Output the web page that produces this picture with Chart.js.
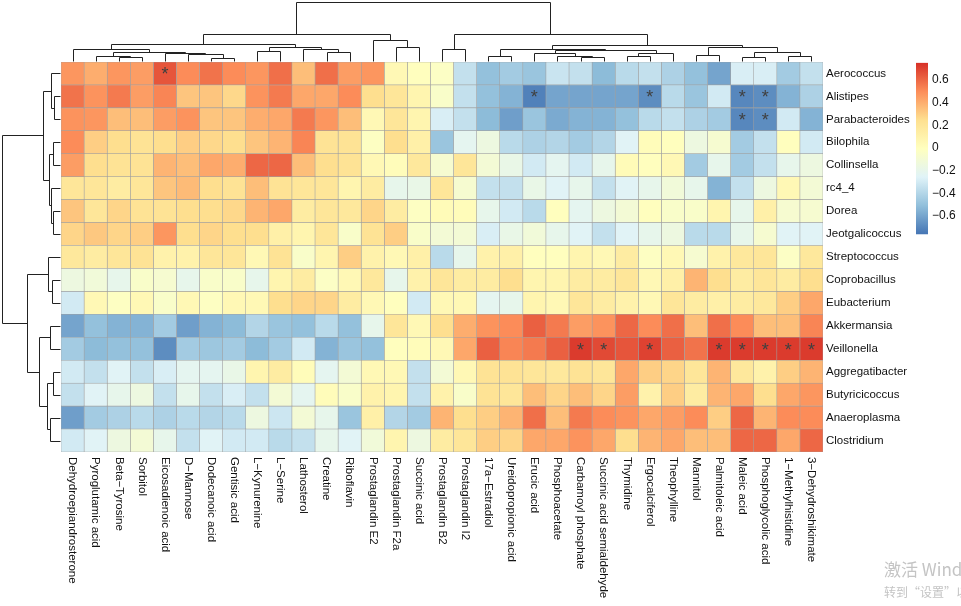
<!DOCTYPE html>
<html>
<head>
<meta charset="utf-8">
<title>Genus - metabolite correlation heatmap</title>
<script src="https://cdn.jsdelivr.net/npm/chart.js@4.4.1/dist/chart.umd.min.js"></script>
<style>
  body { margin: 0; background: #fff; }
  canvas { display: block; }
</style>
</head>
<body>
<canvas id="heatmap" width="961" height="606"></canvas>
<script>
const genera = ['Aerococcus', 'Alistipes', 'Parabacteroides', 'Bilophila', 'Collinsella', 'rc4_4', 'Dorea',
  'Jeotgalicoccus', 'Streptococcus', 'Coprobacillus', 'Eubacterium', 'Akkermansia', 'Veillonella',
  'Aggregatibacter', 'Butyricicoccus', 'Anaeroplasma', 'Clostridium'];

const metabolites = ['Dehydroepiandrosterone', 'Pyroglutamic acid', 'Beta\u2212Tyrosine', 'Sorbitol',
  'Eicosadienoic acid', 'D\u2212Mannose', 'Dodecanoic acid', 'Gentisic acid', 'L\u2212Kynurenine', 'L\u2212Serine',
  'Lathosterol', 'Creatine', 'Riboflavin', 'Prostaglandin E2', 'Prostaglandin F2a', 'Succinic acid',
  'Prostaglandin B2', 'Prostaglandin I2', '17a\u2212Estradiol', 'Ureidopropionic acid', 'Erucic acid',
  'Phosphoacetate', 'Carbamoyl phosphate', 'Succinic acid semialdehyde', 'Thymidine', 'Ergocalciferol',
  'Theophylline', 'Mannitol', 'Palmitoleic acid', 'Maleic acid', 'Phosphoglycolic acid',
  '1\u2212Methylhistidine', '3\u2212Dehydroshikimate'];

// correlation, one line per genus, columns in metabolite order
const corr = [
  [0.47, 0.40, 0.47, 0.45, 0.65, 0.50, 0.57, 0.50, 0.47, 0.58, 0.35, 0.58, 0.45, 0.47, 0.05, 0.00, -0.03, -0.35, -0.50, -0.45, -0.48, -0.33, -0.35, -0.52, -0.38, -0.35, -0.42, -0.50, -0.60, -0.28, -0.28, -0.45, -0.35],
  [0.57, 0.48, 0.55, 0.45, 0.52, 0.33, 0.33, 0.27, 0.48, 0.55, 0.42, 0.42, 0.50, 0.25, 0.20, 0.08, -0.05, -0.35, -0.50, -0.55, -0.72, -0.60, -0.60, -0.60, -0.60, -0.68, -0.38, -0.48, -0.30, -0.70, -0.68, -0.55, -0.42],
  [0.48, 0.47, 0.35, 0.35, 0.45, 0.48, 0.33, 0.33, 0.40, 0.42, 0.55, 0.47, 0.35, 0.05, 0.20, 0.08, -0.28, -0.35, -0.52, -0.62, -0.48, -0.58, -0.55, -0.55, -0.50, -0.38, -0.35, -0.42, -0.45, -0.70, -0.68, -0.30, -0.55],
  [0.50, 0.30, 0.25, 0.22, 0.25, 0.30, 0.27, 0.25, 0.33, 0.38, 0.52, 0.22, 0.22, -0.02, 0.25, 0.12, -0.48, -0.22, -0.15, -0.38, -0.42, -0.40, -0.45, -0.40, -0.25, 0.02, 0.00, -0.15, -0.08, -0.45, -0.35, 0.00, -0.30],
  [0.45, 0.25, 0.22, 0.22, 0.38, 0.35, 0.42, 0.40, 0.60, 0.60, 0.35, 0.25, 0.22, 0.05, 0.02, 0.18, -0.08, 0.20, -0.10, -0.18, -0.30, -0.22, -0.30, -0.20, 0.03, 0.00, 0.05, -0.45, -0.20, -0.45, -0.35, -0.20, -0.15],
  [0.20, 0.20, 0.15, 0.20, 0.33, 0.36, 0.25, 0.22, 0.35, 0.22, 0.20, 0.20, 0.08, 0.15, -0.20, -0.18, 0.20, -0.08, -0.35, -0.35, -0.18, -0.25, -0.20, -0.35, -0.25, -0.20, -0.12, -0.20, -0.55, -0.35, -0.15, 0.05, -0.10],
  [0.33, 0.20, 0.28, 0.22, 0.22, 0.25, 0.25, 0.27, 0.38, 0.42, 0.15, 0.20, 0.18, 0.28, 0.15, -0.02, 0.03, 0.02, -0.20, -0.30, -0.38, 0.00, -0.22, -0.15, -0.10, 0.00, -0.05, -0.05, 0.08, -0.20, 0.12, -0.08, -0.08],
  [0.28, 0.32, 0.28, 0.30, 0.47, 0.25, 0.28, 0.25, 0.25, 0.12, 0.08, 0.20, -0.05, 0.22, 0.30, -0.05, -0.10, -0.10, -0.28, -0.18, -0.12, -0.20, -0.25, -0.35, -0.25, -0.20, -0.15, -0.38, -0.38, -0.20, -0.08, -0.25, -0.25],
  [0.18, 0.15, 0.20, 0.22, 0.10, 0.10, 0.20, 0.20, 0.05, 0.22, -0.05, 0.08, 0.30, 0.10, 0.05, 0.12, -0.38, -0.20, 0.10, 0.12, 0.00, 0.00, 0.08, 0.05, 0.15, -0.02, 0.05, -0.08, 0.10, 0.18, 0.20, -0.03, 0.18],
  [-0.15, -0.12, -0.20, -0.05, -0.08, -0.20, -0.05, -0.05, -0.20, 0.08, 0.15, -0.03, 0.05, 0.18, -0.20, 0.10, 0.20, 0.15, 0.15, 0.25, 0.08, 0.08, 0.15, 0.15, 0.20, 0.05, 0.12, 0.38, 0.25, 0.15, 0.20, 0.15, 0.25],
  [-0.30, 0.05, -0.02, 0.05, -0.05, 0.05, -0.02, 0.05, 0.05, 0.25, 0.28, 0.28, 0.15, 0.05, 0.00, -0.30, 0.05, 0.05, -0.22, -0.20, 0.08, 0.05, 0.20, 0.15, 0.10, 0.05, 0.20, 0.15, 0.12, 0.15, 0.18, 0.30, 0.42],
  [-0.60, -0.50, -0.55, -0.55, -0.45, -0.62, -0.55, -0.52, -0.40, -0.48, -0.50, -0.38, -0.50, -0.20, 0.20, 0.05, 0.25, 0.40, 0.48, 0.50, 0.62, 0.55, 0.45, 0.48, 0.60, 0.50, 0.58, 0.35, 0.58, 0.50, 0.35, 0.35, 0.52],
  [-0.45, -0.52, -0.50, -0.50, -0.68, -0.45, -0.47, -0.45, -0.52, -0.45, -0.30, -0.55, -0.48, -0.50, 0.00, 0.02, 0.05, 0.42, 0.62, 0.52, 0.55, 0.62, 0.72, 0.68, 0.65, 0.70, 0.62, 0.57, 0.72, 0.72, 0.72, 0.72, 0.72],
  [-0.30, -0.35, -0.25, -0.35, -0.28, -0.22, -0.22, -0.18, 0.08, 0.15, 0.02, -0.22, -0.10, 0.05, 0.05, -0.35, -0.10, 0.05, 0.22, 0.22, 0.20, 0.18, 0.22, 0.20, 0.42, 0.30, 0.28, 0.20, 0.38, 0.18, 0.10, 0.30, 0.38],
  [-0.35, -0.25, -0.20, -0.15, -0.35, -0.20, -0.35, -0.28, -0.35, -0.10, -0.22, 0.02, -0.05, 0.10, 0.08, -0.35, 0.10, -0.05, 0.22, 0.20, 0.35, 0.28, 0.35, 0.28, 0.45, 0.10, 0.30, 0.15, 0.38, 0.42, 0.25, 0.42, 0.47],
  [-0.62, -0.45, -0.42, -0.38, -0.42, -0.38, -0.40, -0.38, -0.15, -0.32, -0.10, -0.20, -0.48, 0.12, -0.40, -0.45, 0.38, 0.25, 0.30, 0.38, 0.58, 0.35, 0.55, 0.50, 0.48, 0.42, 0.45, 0.50, 0.30, 0.60, 0.38, 0.50, 0.50],
  [-0.30, -0.25, -0.15, -0.10, -0.20, -0.35, -0.25, -0.30, -0.30, -0.38, -0.35, -0.20, -0.25, -0.12, 0.08, -0.15, 0.15, 0.20, 0.30, 0.28, 0.42, 0.42, 0.48, 0.42, 0.25, 0.38, 0.42, 0.35, 0.35, 0.60, 0.60, 0.42, 0.60]
];

// significant pairs (genus, metabolite)
const stars = [
  ['Aerococcus', 'Eicosadienoic acid'],
  ['Alistipes', 'Erucic acid'], ['Alistipes', 'Ergocalciferol'], ['Alistipes', 'Maleic acid'], ['Alistipes', 'Phosphoglycolic acid'],
  ['Parabacteroides', 'Maleic acid'], ['Parabacteroides', 'Phosphoglycolic acid'],
  ['Veillonella', 'Carbamoyl phosphate'], ['Veillonella', 'Succinic acid semialdehyde'], ['Veillonella', 'Ergocalciferol'],
  ['Veillonella', 'Palmitoleic acid'], ['Veillonella', 'Maleic acid'], ['Veillonella', 'Phosphoglycolic acid'],
  ['Veillonella', '1\u2212Methylhistidine'], ['Veillonella', '3\u2212Dehydroshikimate']
];

const legendTicks = [0.6, 0.4, 0.2, 0, -0.2, -0.4, -0.6];

// hclust style trees: negative = leaf (1-based), positive = earlier merge
const colMerge = [[-3, -4], [-2, 1], [-7, -8], [-6, 3], [-5, 4], [2, 5], [-1, 6], [-9, -10], [-12, -13], [-11, 9],
  [8, 10], [7, 11], [-15, -16], [-14, 13], [12, 14], [-17, -18], [-19, -20], [-23, -24], [-22, 18], [-21, 19],
  [-25, -26], [21, -27], [20, 22], [17, 23], [-28, -29], [-30, -31], [-32, -33], [26, 27], [25, 28], [24, 29],
  [16, 30], [15, 31]];
const colHeight = [4.4, 5.0, 3.4, 7.4, 8.2, 9.4, 12.4, 10.0, 9.0, 12.4, 14.4, 17.0, 14.0, 21.4, 27.0, 12.4, 5.0,
  3.7, 5.0, 8.4, 4.7, 7.7, 10.7, 12.4, 5.7, 3.7, 4.7, 8.7, 14.7, 16.0, 27.0, 60.0];

const rowMerge = [[-2, -3], [-1, 1], [-4, -5], [-7, -8], [-6, 4], [3, 5], [2, 6], [-10, -11], [-9, 8], [-12, -13],
  [-14, -15], [-16, -17], [11, 12], [10, 13], [9, 14], [7, 15]];
const rowHeight = [5.7, 9.3, 7.0, 7.3, 9.5, 11.5, 16.7, 8.3, 11.7, 10.0, 6.7, 10.0, 13.3, 20.7, 33.3, 58.3];

const palette = ['#4575B4', '#91BFDB', '#E0F3F8', '#FFFFBF', '#FEE090', '#FC8D59', '#D73027'];
const vMin = -0.76;
const vMax = 0.75;
const fontFamily = '"Liberation Sans", Arial, sans-serif';

function hexToRgb(h) {
    return [1, 3, 5].map(i => parseInt(h.substr(i, 2), 16));
}

function colorFor(v) {
    let t = (v - vMin) / (vMax - vMin);
    t = Math.max(0, Math.min(1, t)) * (palette.length - 1);
    const i = Math.min(Math.floor(t), palette.length - 2);
    const f = t - i;
    const a = hexToRgb(palette[i]);
    const b = hexToRgb(palette[i + 1]);
    const c = a.map((x, k) => Math.round(x + (b[k] - x) * f));
    return `rgb(${c[0]}, ${c[1]}, ${c[2]})`;
}

// one floating-bar dataset per metabolite column
const datasets = metabolites.map((name, j) => ({
    label: name,
    data: genera.map(() => [j, j + 1]),
    backgroundColor: genera.map((g, i) => colorFor(corr[i][j])),
    borderColor: '#a0a0a0',
    borderWidth: 0.6,
    borderSkipped: false,
    barPercentage: 1,
    categoryPercentage: 1,
    grouped: false
}));

function drawTree(ctx, merge, height, leafPix, hPix, vertical) {
    const nodes = [];
    const get = (id) => id < 0 ? { p: leafPix(-id - 1), h: 0 } : nodes[id - 1];
    const line = (p1, h1, p2, h2) => {
        if (vertical) {
            ctx.moveTo(Math.round(p1) + 0.5, hPix(h1));
            ctx.lineTo(Math.round(p2) + 0.5, hPix(h2));
        } else {
            ctx.moveTo(hPix(h1), Math.round(p1) + 0.5);
            ctx.lineTo(hPix(h2), Math.round(p2) + 0.5);
        }
    };
    ctx.beginPath();
    merge.forEach(([a, b], i) => {
        const A = get(a);
        const B = get(b);
        const h = height[i];
        line(A.p, A.h, A.p, h);
        line(A.p, h, B.p, h);
        line(B.p, h, B.p, B.h);
        nodes.push({ p: (A.p + B.p) / 2, h: h });
    });
    ctx.stroke();
}

const extras = {
    id: 'extras',
    afterDraw(chart) {
        const { ctx, chartArea, scales: { x, y } } = chart;
        ctx.save();

        // significance marks
        ctx.fillStyle = '#404040';
        ctx.font = `18px ${fontFamily}`;
        ctx.textAlign = 'center';
        ctx.textBaseline = 'middle';
        stars.forEach(([g, m]) => {
            const px = x.getPixelForValue(metabolites.indexOf(m) + 0.5);
            const py = y.getPixelForValue(genera.indexOf(g));
            ctx.fillText('*', px, py + 2);
        });

        // metabolite labels, rotated
        ctx.fillStyle = '#111';
        ctx.font = `11.5px ${fontFamily}`;
        ctx.textAlign = 'left';
        metabolites.forEach((m, j) => {
            ctx.save();
            ctx.translate(x.getPixelForValue(j + 0.5), chartArea.bottom + 5);
            ctx.rotate(Math.PI / 2);
            ctx.fillText(m, 0, 0);
            ctx.restore();
        });

        // dendrograms
        ctx.strokeStyle = '#222';
        ctx.lineWidth = 1;
        const colMax = Math.max(...colHeight);
        drawTree(ctx, colMerge, colHeight,
            k => x.getPixelForValue(k + 0.5),
            h => Math.round(chartArea.top - 1 - h / colMax * (chartArea.top - 3)) + 0.5, true);
        const rowMax = Math.max(...rowHeight);
        drawTree(ctx, rowMerge, rowHeight,
            k => y.getPixelForValue(k),
            h => Math.round(chartArea.left - 1 - h / rowMax * (chartArea.left - 3)) + 0.5, false);

        // colour key
        const keyX = 916, keyW = 12, zeroY = 148, perUnit = 113.5;
        const yOf = v => zeroY - v * perUnit;
        const grad = ctx.createLinearGradient(0, yOf(vMax), 0, yOf(vMin));
        palette.forEach((c, i) => grad.addColorStop(1 - i / (palette.length - 1), c));
        ctx.fillStyle = grad;
        ctx.fillRect(keyX, yOf(vMax), keyW, yOf(vMin) - yOf(vMax));
        ctx.fillStyle = '#111';
        ctx.font = `12px ${fontFamily}`;
        ctx.textAlign = 'left';
        ctx.textBaseline = 'middle';
        legendTicks.forEach(v => {
            const txt = v < 0 ? '\u2212' + Math.abs(v).toString() : v.toString();
            ctx.fillText(txt, keyX + keyW + 4, yOf(v));
        });

        // screen watermark present in the capture
        ctx.fillStyle = '#c4c4c4';
        ctx.font = '17px "Noto Sans CJK SC", sans-serif';
        ctx.textBaseline = 'alphabetic';
        ctx.fillText('激活 Windows', 884, 576);
        ctx.font = '12px "Noto Sans CJK SC", sans-serif';
        ctx.fillText('转到“设置”以激活 Windows。', 884, 597);

        ctx.restore();
    }
};

new Chart(document.getElementById('heatmap'), {
    type: 'bar',
    data: { labels: genera, datasets: datasets },
    options: {
        indexAxis: 'y',
        responsive: false,
        animation: false,
        layout: { padding: { top: 62, bottom: 154, left: 61, right: 0 } },
        plugins: { legend: { display: false }, tooltip: { enabled: false } },
        scales: {
            x: { type: 'linear', min: 0, max: metabolites.length, display: false },
            y: {
                type: 'category',
                position: 'right',
                grid: { display: false, drawTicks: false },
                border: { display: false },
                ticks: { autoSkip: false, padding: 3, color: '#111', font: { family: fontFamily, size: 11.5 } },
                afterFit: (scale) => { scale.width = 138; }
            }
        }
    },
    plugins: [extras]
});
</script>
</body>
</html>
